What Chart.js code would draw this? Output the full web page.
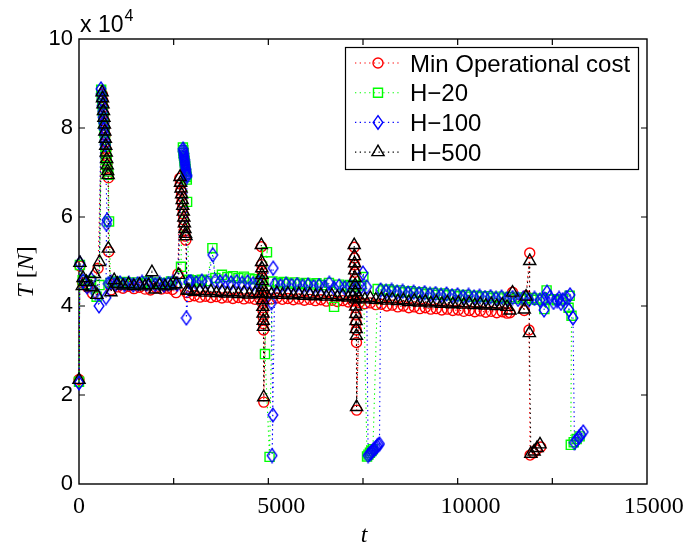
<!DOCTYPE html>
<html>
<head>
<meta charset="utf-8">
<style>
  html, body { margin: 0; padding: 0; background: #fff; }
  #wrap { width: 686px; height: 548px; }
</style>
<script src="https://cdn.jsdelivr.net/npm/chart.js@4.4.1/dist/chart.umd.min.js"></script>
</head>
<body>
<div id="wrap"><canvas id="c" width="686" height="548"></canvas></div>
<script>
// Thrust T [N] against time t, one [t, T] pair per sample.
const minCostPts = [
  [0,23500],[25,49000],[100,45200],[230,44200],[370,42800],[520,48500],
  [635,87600],[648,86200],[661,84700],[674,83200],[687,81600],[700,80000],[713,78400],[726,76800],[739,75200],[752,73600],[765,72100],[778,70700],[791,69600],[805,68800],
  [810,52200],[880,43600],[980,45000],
  [1050,44300],[1200,44000],[1350,44400],[1500,43900],[1650,44200],[1800,43800],[1950,43600],[2100,44100],[2250,43800],[2400,44000],[2550,43700],[2650,43000],[2700,47200],
  [2750,68700],[2765,67400],[2780,66000],[2795,64700],[2810,63400],[2825,62000],[2840,60700],[2855,59400],[2870,58100],[2885,56800],[2900,55700],[2915,54800],
  [2940,43000],
  [3000,42100],[3150,42300],[3300,42000],[3450,42200],[3600,41900],[3750,42100],[3900,41800],[4050,42000],[4200,41700],[4350,41900],[4500,41600],[4650,41800],[4800,41500],[4930,41700],
  [4978,53300],[4985,49300],[4990,47800],[4996,46300],[5001,44900],[5006,43500],[5011,42000],[5016,40500],[5021,39000],[5026,37500],[5031,36000],[5036,34600],[5042,18400],
  [5100,41900],[5250,41600],[5400,41800],[5550,41500],[5700,41700],[5850,41400],[6000,41600],[6150,41300],[6300,41500],[6450,41200],[6600,41400],[6750,41100],[6900,41300],[7050,41000],[7200,41200],[7350,40900],[7470,41100],
  [7512,53200],[7518,50800],[7523,49200],[7528,47600],[7533,46000],[7538,44400],[7543,42800],[7548,41200],[7553,39600],[7558,38000],[7563,36300],[7568,34600],[7573,31800],[7578,16600],
  [7650,40800],[7800,40500],[7950,40700],[8100,40300],[8250,40400],[8400,40000],[8550,40200],[8700,39800],[8850,40000],[9000,39600],[9150,39800],[9300,39400],[9450,39600],[9600,39300],[9750,39400],[9900,39100],[10050,39300],[10200,39000],[10350,39100],[10500,38800],[10650,39000],[10800,38700],[10950,38900],[11100,38600],[11250,38800],[11400,38500],[11550,38700],[11680,38400],
  [11760,38500],[11830,43100],[12150,39000],[12200,42300],[12300,51900],[12280,34600],[12310,6500],[12400,7000],[12480,7700],[12600,8300]
];

const h20Pts = [
  [0,23000],[25,49200],[100,45800],[210,44900],[330,45600],[480,42100],[560,44700],
  [605,88600],[620,87000],[635,85400],[650,83800],[665,82200],[680,80600],[695,79000],[710,77400],[725,75800],[740,74300],[755,72800],[770,71400],[785,70200],[800,69500],
  [820,59000],[860,45200],
  [950,45500],[1080,45100],[1210,45400],[1340,45000],[1470,45300],[1600,44900],[1730,45200],[1860,45500],[1990,45000],[2120,45300],[2250,44900],[2380,45200],[2510,45500],[2640,45100],
  [2783,48800],
  [2835,75600],[2844,75000],[2853,74400],[2862,73800],[2871,73200],[2880,72600],[2889,72000],[2898,71400],[2907,70800],[2916,70200],[2925,69600],[2934,69000],[2942,68400],[2950,63400],[2995,45900],
  [3050,45800],[3200,45500],[3350,45900],[3500,45600],[3640,53000],[3720,46300],[3900,47000],[4050,46500],[4200,46700],[4350,46300],[4500,46600],[4650,46200],[4800,46000],[4950,45600],
  [5130,52100],[5075,29200],[5200,6100],[5280,45500],
  [5430,45100],[5580,45400],[5730,45000],[5880,45300],[6030,44900],[6180,45200],[6330,44800],[6480,45100],[6630,44700],[6820,45200],[6960,39800],[7100,44800],[7250,44400],[7400,44700],[7550,44300],[7700,44600],[7760,46500],
  [7860,6200],[7900,6600],[7940,7000],[7980,7400],[8020,7800],
  [8150,43800],[8300,43500],[8450,43700],[8600,43300],[8750,43500],[8900,43100],[9050,43300],[9200,42900],[9350,43100],[9500,42700],[9650,42900],[9800,42500],[9950,42800],[10100,42400],[10250,42600],[10400,42200],[10550,42500],[10700,42100],[10850,42300],[11000,42000],[11150,42200],[11300,41800],[11450,42100],[11600,41700],[11750,42000],[11900,41600],[12050,41900],[12200,41500],[12350,41800],[12500,41400],[12650,41700],
  [12760,43500],[12700,39300],[12900,41500],[13050,41300],[13200,41500],[13390,42300],[13360,39600],[13440,37800],[13420,8800],[13500,9400],[13580,10100],[13660,10700]
];

const h100Pts = [
  [0,22700],[25,49600],[110,45600],[220,44300],[330,46000],[450,43000],[546,40000],
  [600,88800],[612,87600],[624,86300],[636,85000],[648,83700],[660,82400],[672,81100],[684,79800],[696,78500],[708,77300],[720,76200],
  [764,59300],[750,58400],[737,41900],[800,45000],
  [880,45300],[1000,44900],[1120,45200],[1240,44800],[1360,45100],[1480,44700],[1600,45000],[1720,45300],[1840,44900],[1960,45200],[2080,44800],[2200,45100],[2320,44700],[2440,45000],[2560,45300],[2680,44900],
  [2840,75300],[2848,74800],[2856,74300],[2864,73800],[2872,73300],[2880,72800],[2888,72300],[2896,71800],[2904,71300],[2912,70800],[2920,70300],[2928,69800],[2936,69400],[2944,69100],
  [2930,37300],[3000,45400],
  [3050,45500],[3200,45200],[3350,45600],[3500,45300],[3650,51500],[3720,45700],[3850,45400],[4000,45600],[4150,45200],[4300,45500],[4450,45100],[4600,45400],[4750,45000],[4900,45300],
  [5300,48500],[5250,40700],[5290,15500],[5270,6400],[5340,44800],
  [5500,44500],[5650,44900],[5800,44600],[5950,44800],[6100,44400],[6250,44700],[6400,44300],[6550,44600],[6700,44200],[6830,45100],[6960,44000],[7100,44500],[7250,44100],[7400,44400],[7550,44000],[7700,44300],[7750,47400],[7850,44300],
  [7890,6400],[7925,6700],[7960,7000],[7995,7300],[8030,7600],[8065,7900],[8100,8200],[8135,8500],[8170,8800],[8200,9000],
  [8230,43600],[8380,43300],[8530,43500],[8680,43100],[8830,43300],[8980,42900],[9130,43100],[9280,42800],[9430,43000],[9580,42600],[9730,42800],[9880,42400],[10030,42700],[10180,42300],[10330,42500],[10480,42100],[10630,42400],[10780,42000],[10930,42200],[11080,41900],[11230,42100],[11380,41700],[11530,42000],[11680,41600],[11830,41900],[11980,41500],[12130,41800],[12280,41400],[12430,41700],[12580,41300],[12700,41600],
  [12770,43100],[12690,39100],[12850,42000],[12950,40800],[13050,41200],[13100,41700],[13150,40600],[13200,41400],[13300,41900],[13400,42500],[13370,39100],[13480,37300],
  [13520,9300],[13580,9900],[13640,10500],[13700,11100],[13760,11700]
];

const h500Pts = [
  [0,23400],[25,49700],[110,46300],[90,44500],[200,45400],[330,44200],[420,47200],[490,42500],[560,49900],
  [630,88000],[642,86700],[655,85300],[668,83800],[680,82300],[692,80800],[705,79200],[718,77600],[730,76000],[743,74500],[756,73000],[769,71600],[782,70300],[795,69400],
  [800,52900],[870,43100],[960,45800],
  [1050,45000],[1200,44600],[1350,44900],[1500,44500],[1650,44800],[1800,44400],[1900,44700],[1990,47600],[2080,43700],[2200,44700],[2350,44400],[2500,44600],[2650,44900],
  [2720,47000],[2756,69000],[2771,67700],[2786,66400],[2801,65100],[2816,63800],[2831,62500],[2846,61200],[2861,59900],[2876,58600],[2891,57300],[2906,56200],[2920,55700],
  [2950,43500],
  [3000,43400],[3150,43200],[3300,43400],[3450,43000],[3600,43300],[3750,42900],[3900,43200],[4050,42800],[4200,43100],[4350,42700],[4500,43000],[4650,42600],[4800,42900],[4920,42700],
  [4975,53700],[4982,49900],[4988,48500],[4993,47000],[4998,45600],[5003,44200],[5008,42800],[5013,41300],[5018,39800],[5023,38300],[5028,36700],[5033,35300],[5040,19500],
  [5100,42800],[5250,42600],[5400,42900],[5550,42500],[5700,42800],[5850,42400],[6000,42700],[6150,42300],[6300,42600],[6450,42200],[6600,42500],[6750,42100],[6900,42400],[7050,42000],[7200,42300],[7350,41900],[7470,42200],
  [7510,53700],[7515,51200],[7520,49600],[7525,48000],[7530,46300],[7535,44700],[7540,43100],[7545,41500],[7550,39900],[7555,38200],[7560,36600],[7565,34800],[7570,33300],[7575,17300],
  [7650,41800],[7800,41500],[7950,41800],[8100,41400],[8250,41600],[8400,41200],[8550,41500],[8700,41100],[8850,41300],[9000,40900],[9150,41200],[9300,40800],[9450,41000],[9600,40600],[9750,40900],[9900,40500],[10050,40800],[10200,40400],[10350,40700],[10500,40300],[10650,40600],[10800,40200],[10950,40500],[11100,40100],[11250,40400],[11400,40000],[11550,40300],[11680,39800],
  [11760,39000],[11830,43000],[12150,39200],[12200,42100],[12300,50100],[12290,33900],[12330,6800],[12420,7300],[12500,8100],[12580,8900]
];

const seriesNames = ['Min Operational cost', 'H\u221220', 'H\u2212100', 'H\u2212500'];
const seriesColors = ['#ff0000', '#00ff00', '#0000ff', '#000000'];
const xLabelledTicks = [0, 5000, 10000, 15000];
const yTickLabels = ['0', '2', '4', '6', '8', '10'];

// Tall unfilled diamond marker
function diamondMarker(color) {
  const c = document.createElement('canvas');
  c.width = 12; c.height = 16;
  const g = c.getContext('2d');
  g.strokeStyle = color;
  g.lineWidth = 1.4;
  g.beginPath();
  g.moveTo(6, 1.2); g.lineTo(10.8, 8); g.lineTo(6, 14.8); g.lineTo(1.2, 8);
  g.closePath();
  g.stroke();
  return c;
}

const toXY = pts => pts.map(([t, T]) => ({ x: t, y: T }));

function series(idx, pts, style, radius, order) {
  const col = seriesColors[idx];
  return {
    label: seriesNames[idx],
    data: toXY(pts),
    showLine: true,
    borderColor: col,
    borderWidth: 1.1,
    borderDash: [1.3, 3.4],
    fill: false,
    tension: 0,
    pointStyle: style,
    pointRadius: radius,
    pointBorderColor: col,
    pointBackgroundColor: 'rgba(0,0,0,0)',
    pointBorderWidth: 1.4,
    clip: false,
    order: order
  };
}

const datasets = [
  series(0, minCostPts, 'circle', 5, 3),
  series(1, h20Pts, 'rect', 6.4, 2),
  series(2, h100Pts, diamondMarker(seriesColors[2]), 6, 1),
  series(3, h500Pts, 'triangle', 7, 0)
];

function drawMarker(ctx, idx, x, y) {
  const col = seriesColors[idx];
  ctx.save();
  ctx.strokeStyle = col;
  ctx.lineWidth = 1.4;
  ctx.beginPath();
  if (idx === 0) {
    ctx.arc(x, y, 5, 0, Math.PI * 2);
  } else if (idx === 1) {
    ctx.rect(x - 4.5, y - 4.5, 9, 9);
  } else if (idx === 2) {
    ctx.moveTo(x, y - 6.8); ctx.lineTo(x + 4.8, y); ctx.lineTo(x, y + 6.8); ctx.lineTo(x - 4.8, y); ctx.closePath();
  } else {
    ctx.moveTo(x, y - 7); ctx.lineTo(x + 6.1, y + 3.5); ctx.lineTo(x - 6.1, y + 3.5); ctx.closePath();
  }
  ctx.stroke();
  ctx.restore();
}

// Axes box, inward tick marks and t-axis labels
const framePlugin = {
  id: 'frame',
  beforeDatasetsDraw(chart) {
    const { ctx, chartArea: a, scales } = chart;
    ctx.save();
    ctx.strokeStyle = '#000';
    ctx.lineWidth = 1.2;
    const tl = 6;
    ctx.beginPath();
    scales.x.ticks.forEach(t => {
      if (t.value <= 0 || t.value > 15000) return;
      const px = scales.x.getPixelForValue(t.value);
      ctx.moveTo(px, a.bottom); ctx.lineTo(px, a.bottom - tl);
      ctx.moveTo(px, a.top); ctx.lineTo(px, a.top + tl);
    });
    scales.y.ticks.forEach(t => {
      if (t.value <= 0 || t.value >= 100000) return;
      const py = scales.y.getPixelForValue(t.value);
      ctx.moveTo(a.left, py); ctx.lineTo(a.left + tl, py);
      ctx.moveTo(a.right, py); ctx.lineTo(a.right - tl, py);
    });
    ctx.stroke();
    ctx.lineWidth = 1.4;
    ctx.strokeRect(a.left, a.top, a.right - a.left, a.bottom - a.top);

    // t tick labels, set just after their tick marks
    ctx.fillStyle = '#000';
    ctx.font = '24px "Liberation Serif"';
    ctx.textBaseline = 'alphabetic';
    xLabelledTicks.forEach(v => {
      const px = scales.x.getPixelForValue(v);
      const s = String(v);
      if (v === 0) {
        ctx.textAlign = 'center';
        ctx.fillText(s, px, 513);
      } else {
        ctx.textAlign = 'left';
        ctx.fillText(s, px - 5, 513);
      }
    });
    ctx.restore();
  },
  afterDraw(chart) {
    const { ctx, chartArea: a } = chart;
    ctx.save();
    ctx.fillStyle = '#000';

    // exponent of the y axis
    ctx.font = '23px "Liberation Sans"';
    ctx.textBaseline = 'alphabetic';
    ctx.textAlign = 'left';
    ctx.fillText('x 10', 80, 32);
    const w = ctx.measureText('x 10').width;
    ctx.font = '16px "Liberation Sans"';
    ctx.fillText('4', 80 + w + 1, 21);

    // axis titles
    ctx.font = 'italic 24px "Liberation Serif"';
    ctx.textAlign = 'center';
    ctx.fillText('t', (a.left + a.right) / 2 + 1, 542);

    const parts = [
      ['T', 'italic 24px "Liberation Serif"'],
      [' [', '24px "Liberation Serif"'],
      ['N', 'italic 24px "Liberation Serif"'],
      [']', '24px "Liberation Serif"']
    ];
    let total = 0;
    parts.forEach(p => { ctx.font = p[1]; total += ctx.measureText(p[0]).width; });
    ctx.translate(33, 272);
    ctx.rotate(-Math.PI / 2);
    ctx.textAlign = 'left';
    let cx = -total / 2;
    parts.forEach(p => { ctx.font = p[1]; ctx.fillText(p[0], cx, 0); cx += ctx.measureText(p[0]).width; });
    ctx.restore();

    // legend
    ctx.save();
    const bx = 345.5, by = 47.5, bw = 293, bh = 122;
    ctx.fillStyle = '#fff';
    ctx.fillRect(bx, by, bw, bh);
    ctx.strokeStyle = '#000';
    ctx.lineWidth = 1.2;
    ctx.strokeRect(bx, by, bw, bh);
    ctx.font = '24px "Liberation Sans"';
    ctx.textAlign = 'left';
    ctx.textBaseline = 'alphabetic';
    seriesNames.forEach((name, i) => {
      const ry = 63 + i * 29.7;
      ctx.save();
      ctx.strokeStyle = seriesColors[i];
      ctx.lineWidth = 1.1;
      ctx.setLineDash([1.3, 3.4]);
      ctx.beginPath();
      ctx.moveTo(355, ry); ctx.lineTo(401, ry);
      ctx.stroke();
      ctx.restore();
      drawMarker(ctx, i, 378, ry);
      ctx.fillStyle = '#000';
      ctx.fillText(name, 410, ry + 8.5);
    });
    ctx.restore();
  }
};

new Chart(document.getElementById('c'), {
  type: 'line',
  data: { datasets },
  options: {
    responsive: false,
    animation: false,
    events: [],
    layout: { padding: { top: 39, right: 39, left: 0, bottom: 0 } },
    plugins: { legend: { display: false }, tooltip: { enabled: false } },
    scales: {
      x: {
        type: 'linear',
        min: 0,
        max: 15500,
        afterFit(s) { s.height = 64; },
        grid: { display: false, drawTicks: false },
        border: { display: false },
        ticks: { stepSize: 2500, autoSkip: false, maxRotation: 0, display: false }
      },
      y: {
        type: 'linear',
        min: 0,
        max: 100000,
        afterFit(s) { s.width = 79; },
        grid: { display: false, drawTicks: false },
        border: { display: false },
        ticks: {
          stepSize: 20000,
          padding: 6,
          color: '#000',
          font: { family: 'Liberation Sans', size: 22 },
          callback: v => yTickLabels[Math.round(v / 20000)]
        }
      }
    }
  },
  plugins: [framePlugin]
});
</script>
</body>
</html>
